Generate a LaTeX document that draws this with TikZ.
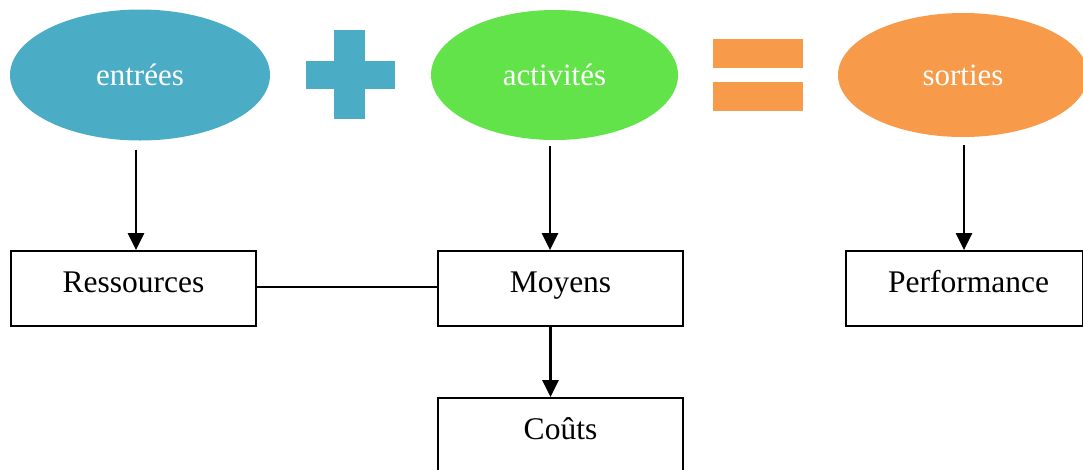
\documentclass[tikz,border=0pt]{standalone}
\usepackage{fontspec}
\setmainfont{Liberation Serif}
\usetikzlibrary{arrows.meta,shapes.geometric}
\definecolor{inblue}{HTML}{4BACC6}
\definecolor{actgreen}{HTML}{63E34A}
\definecolor{outorange}{HTML}{F79A49}
\tikzset{
  oval/.style={ellipse, inner sep=0pt, text=white, font=\fontsize{31}{36}\selectfont},
  box/.style={draw=black, line width=1.8pt, minimum width=245pt, minimum height=75pt,
              inner sep=0pt, text height=22pt, text depth=15pt,
              font=\fontsize{31.5}{36}\selectfont},
  arr/.style={draw=black, line width=2.4pt, -{Triangle[length=17pt,width=16pt]}},
  link/.style={draw=black, line width=1.8pt}
}
\begin{document}
\begin{tikzpicture}[x=1pt, y=-1pt]
\clip (0,0) rectangle (1083,469);

% top row: inputs + activities = outputs
\node[oval, fill=inblue, minimum width=260pt, minimum height=131pt] (ent) at (140,75) {entrées};
\node[oval, fill=actgreen, minimum width=247pt, minimum height=130pt] (act) at (554.5,75) {activités};
\node[oval, fill=outorange, minimum width=250pt, minimum height=124pt] (sor) at (963,75) {sorties};

% plus sign
\fill[inblue] (334,30) rectangle (365,119);
\fill[inblue] (306,61) rectangle (395,89);
% equals sign
\fill[outorange] (713,39) rectangle (803,68);
\fill[outorange] (713,82) rectangle (803,111);

% boxes
\node[box] (res) at (133.5,288.5) {Ressources};
\node[box] (moy) at (560.5,288.5) {Moyens};
\node[box, minimum width=237pt] (per) at (964.5,288.5) {\hspace*{8pt}Performance};
\node[box] (cou) at (560.5,435.5) {Coûts};

% connectors
\coordinate (entA) at ([shift={(-4,9)}]ent.south);
\coordinate (actA) at ([shift={(-4.5,6)}]act.south);
\coordinate (sorA) at ([shift={(1,8)}]sor.south);
\coordinate (moyA) at ([shift={(-10,0)}]moy.south);
\draw[arr] (entA) -- (entA |- res.north);
\draw[arr] (actA) -- (actA |- moy.north);
\draw[arr] (sorA) -- (sorA |- per.north);
\draw[arr] (moyA) -- (moyA |- cou.north);
\draw[link] ([yshift=1.5pt]res.east) -- ([yshift=1.5pt]moy.west);
\end{tikzpicture}
\end{document}
